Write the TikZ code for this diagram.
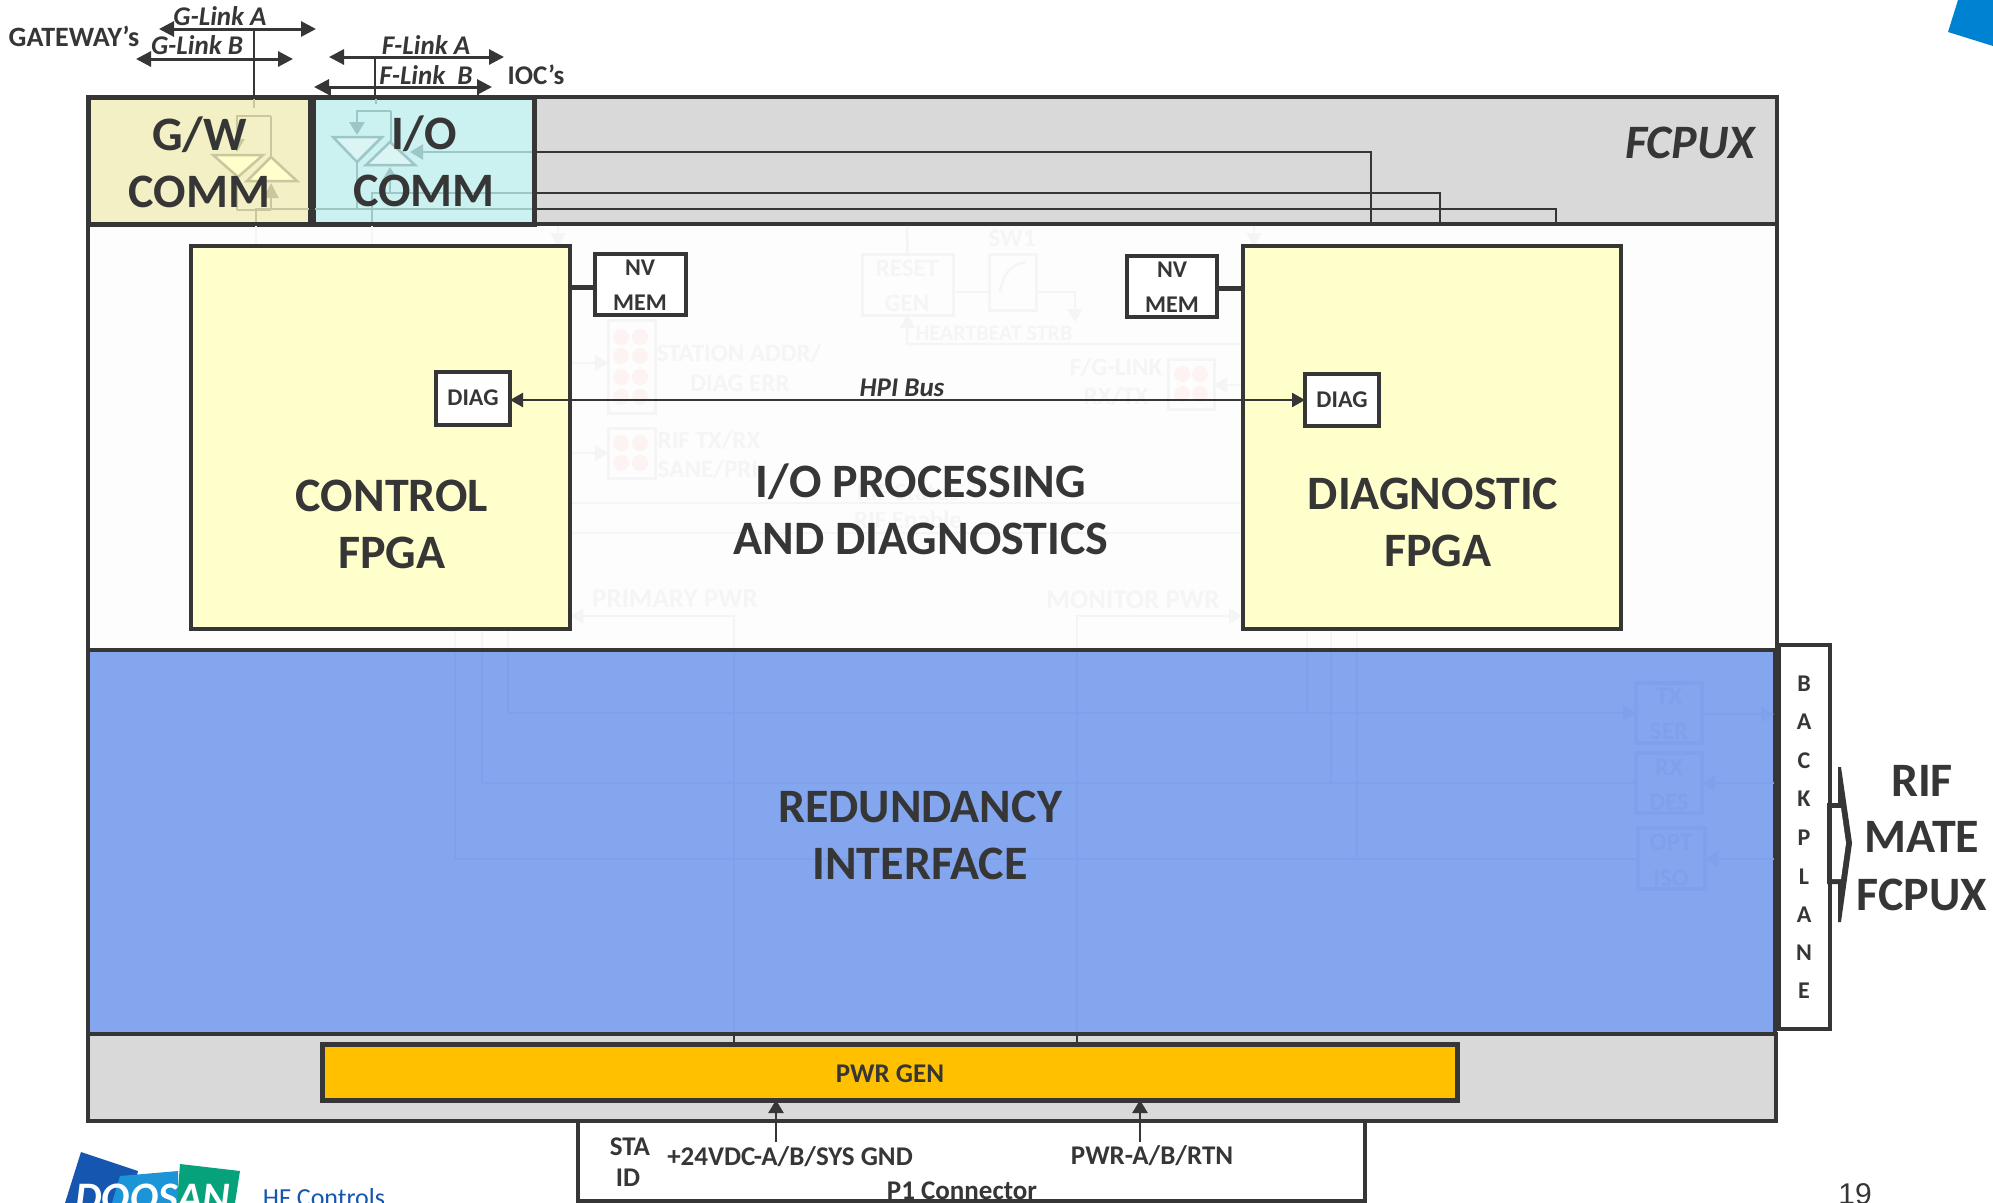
\documentclass[tikz,border=0pt]{standalone}
\usepackage{fontspec}
\setmainfont{Carlito}
\usetikzlibrary{arrows.meta}
\definecolor{ink}{HTML}{363636}
\definecolor{gry}{HTML}{D9D9D9}
\definecolor{blu}{HTML}{84A6EE}
\definecolor{gwf}{HTML}{F2F0C4}
\definecolor{iof}{HTML}{CCF1F1}
\definecolor{yel}{HTML}{FFFFCC}
\definecolor{org}{HTML}{FFC000}
\definecolor{gwh}{HTML}{C9C79E}
\definecolor{ioh}{HTML}{9DC6C6}
\definecolor{wbg}{HTML}{FDFDFD}
\definecolor{wh}{HTML}{F5F5F5}
\definecolor{bh}{HTML}{7FA1EB}
\definecolor{led}{HTML}{FEF3F3}
\definecolor{cmk}{HTML}{0082D2}
\definecolor{lg1}{HTML}{1556B0}
\definecolor{lg2}{HTML}{1C94D8}
\definecolor{lg3}{HTML}{05A27C}
\newcommand\myrect[7]{\node[#1,minimum width={#4pt-#2pt},minimum height={#5pt-#3pt}] (#6) at ({(#2+#4)/2},{(#3+#5)/2}) {#7};}
\newcommand\fs[2]{\fontsize{#1}{#2}\selectfont}
\tikzset{
  frame/.style={draw=ink,line width=4pt,inner sep=0pt,outer sep=0pt},
  thin box/.style={draw=ink,line width=3.5pt,inner sep=0pt,outer sep=0pt},
  txt/.style={text=ink,font=\bfseries,inner sep=0pt,outer sep=0pt,align=center},
  big/.style={txt,font=\bfseries\fs{48}{57}},
  mid/.style={txt,font=\bfseries\fs{24}{35}},
  small/.style={txt,font=\bfseries\fs{27}{27}},
  ital/.style={txt,font=\bfseries\itshape\fs{27}{30}},
  bus/.style={draw=ink,line width=3pt,{Triangle[length=15pt,width=15pt]}-{Triangle[length=15pt,width=15pt]}},
  link/.style={draw=ink,line width=2.5pt},
  up/.style={draw=ink,line width=2.5pt,-{Triangle[length=13pt,width=15pt]}},
  ghw/.style={draw=wh,line width=2.5pt},
  ghb/.style={draw=bh,line width=2.5pt},
  ghwa/.style={ghw,-{Triangle[length=13pt,width=15pt,color=wh]}},
  ghba/.style={ghb,-{Triangle[length=13pt,width=15pt,color=bh]}},
  ghwt/.style={txt,text=wh,font=\bfseries\fs{25}{35}},
  ghbt/.style={txt,text=bh,font=\bfseries\fs{25}{35}},
  ghwb/.style={draw=wh,line width=3pt,inner sep=0pt,outer sep=0pt},
  ghbb/.style={draw=bh,line width=4pt,inner sep=0pt,outer sep=0pt},
  ledd/.style={circle,fill=led,inner sep=0pt,outer sep=0pt,minimum size=16pt},
  gwl/.style={draw=gwh,line width=2.5pt},
  iol/.style={draw=ioh,line width=2.5pt},
}
\begin{document}
\begin{tikzpicture}[x=1pt,y=-1pt]
\useasboundingbox (0,0) rectangle (1993,1202);
\clip (0,0) rectangle (1993,1203);
\fill[white] (0,0) rectangle (1993,1203);

% connector box under the frame
\myrect{thin box,fill=white}{578}{1110}{1365}{1201}{pone}{}

% main frame bands
\myrect{frame,fill=gry}{88}{97}{1777}{224}{frametop}{}
\myrect{frame,fill=gry}{88}{1034}{1776}{1121}{framebot}{}
\myrect{frame,fill=wbg}{88}{224}{1777}{650}{framemid}{}
\myrect{frame,fill=blu}{88}{650}{1775}{1034}{framered}{}
\myrect{thin box,fill=white}{1779}{645}{1830}{1029}{bkp}{}
\myrect{frame,line width=5pt,fill=gwf}{88}{97}{310}{224}{gw}{}
\myrect{frame,line width=5pt,fill=iof}{313}{97}{534}{224}{io}{}
\myrect{frame,line width=5pt,fill=org}{322}{1044}{1457}{1100}{pwr}{}

% faint artwork, white band
\coordinate (ra) at (570,363); \coordinate (rb) at (608,363);
\coordinate (rc) at (570,453); \coordinate (rd) at (608,453);
\coordinate (re) at (1242,385); \coordinate (rf) at (1214,385);
\coordinate (la) at (570,503); \coordinate (lb) at (1242,503);
\coordinate (lc) at (570,533); \coordinate (ld) at (1242,533);
\draw[ghwa] (ra) -- (rb);
\draw[ghwa] (rc) -- (rd);
\draw[ghwa] (re) -- (rf);
\draw[ghw] (la) -- (lb);
\draw[ghw] (lc) -- (ld);
\coordinate (aa) at (558,226); \coordinate (ab) at (558,246);
\coordinate (ac) at (1254,226); \coordinate (ad) at (1254,246);
\draw[ghwa] (aa) -- (ab);
\draw[ghwa] (ac) -- (ad);
\coordinate (ga) at (256,226); \coordinate (gb) at (256,246);
\coordinate (gc) at (372,226); \coordinate (gd) at (372,246);
\draw[ghw] (ga) -- (gb);
\draw[ghw] (gc) -- (gd);
\myrect{ghwb}{862}{254}{953}{315}{rst}{}
\myrect{ghwb}{989}{254}{1036}{310}{swo}{}
\coordinate (rstt) at (907,226); \draw[ghw] (rstt) -- (rst.north);
\coordinate (swa) at (953,292); \coordinate (swb) at (989,292);
\coordinate (swc) at (1036,292); \coordinate (swd) at (1075,292); \coordinate (swe) at (1075,322);
\draw[ghw] (swa) -- (swb);
\draw[ghwa] (swc) -- (swd) -- (swe);
\draw[ghw] (1000,292) .. controls (1003,272) and (1012,265) .. (1026,262);
\coordinate (hb) at (1242,344);
\draw[ghwa] (hb) -- (907,344) -- (rst.south);
\node[ghwt] (tsw) at (1012,238) {SW1};
\node[ghwt] (trs) at (907,268) {RESET};
\node[ghwt] (tgn) at (907,303) {GEN};
\node[ghwt,font=\bfseries\fs{22}{22}] (thb) at (994,333) {HEARTBEAT STRB};
\myrect{ghwb}{608}{320}{655}{413}{ls}{}
\myrect{ghwb}{608}{428}{655}{478}{lr}{}
\myrect{ghwb}{1168}{359}{1214}{409}{lf}{}
\foreach \lx/\ly/\ln in {621/337/a,640/337/b,621/356/c,640/356/d,621/377/e,640/377/f,621/397/g,640/397/h,621/443/i,640/443/j,621/463/k,640/463/l,1182/374/m,1200/374/n,1182/394/o,1200/394/p}
  \node[ledd] (led\ln) at (\lx,\ly) {};
\node[ghwt] (tsa) at (739,353) {STATION ADDR/};
\node[ghwt] (tde) at (740,383) {DIAG ERR};
\node[ghwt] (trf) at (709,440) {RIF TX/RX};
\node[ghwt] (tsp) at (708,469) {SANE/PRI};
\node[ghwt] (tfg) at (1116,367) {F/G-LINK};
\node[ghwt] (trx) at (1116,396) {RX/TX};
\node[ghwt] (tst) at (908,492) {RIF Status};
\node[ghwt] (ten) at (908,520) {RIF Enable};
\node[ghwt,font=\bfseries\fs{27}{27}] (tpp) at (675,599) {PRIMARY PWR};
\node[ghwt,font=\bfseries\fs{27}{27}] (tmp) at (1133,600) {MONITOR PWR};

% faint verticals from the FPGAs and the power rails
\foreach \vx/\vn in {455/a,482/b,508/c,1307/d,1331/e,1357/f}{
  \coordinate (vt\vn) at (\vx,629); \coordinate (vm\vn) at (\vx,648);
  \draw[ghw] (vt\vn) -- (vm\vn);
}
\coordinate (pa) at (734,616); \coordinate (pb) at (570,616); \coordinate (pc) at (734,648);
\coordinate (pd) at (1077,616); \coordinate (pe) at (1242,616); \coordinate (pf) at (1077,648);
\draw[ghwa] (pc) -- (pa) -- (pb);
\draw[ghwa] (pf) -- (pd) -- (pe);

% faint artwork, blue band
\myrect{ghbb}{1636}{683}{1702}{743}{tx}{}
\myrect{ghbb}{1636}{753}{1702}{813}{rx}{}
\myrect{ghbb}{1638}{828}{1705}{889}{opt}{}
\node[ghbt] (ttx) at (1669,696) {TX};
\node[ghbt] (tse) at (1669,731) {SER};
\node[ghbt] (trr) at (1669,767) {RX};
\node[ghbt] (tdes) at (1669,802) {DES};
\node[ghbt] (topt) at (1671,842) {OPT};
\node[ghbt] (tiso) at (1671,878) {ISO};
\coordinate (ba) at (508,652); \coordinate (bb) at (508,713);
\coordinate (bc) at (482,652); \coordinate (bd) at (482,783);
\coordinate (be) at (455,652); \coordinate (bf) at (455,859);
\draw[ghba] (ba) -- (bb) -- (tx.west |- bb);
\draw[ghb] (bc) -- (bd) -- (rx.west |- bd);
\draw[ghb] (be) -- (bf) -- (opt.west |- bf);
\coordinate (bg) at (1307,652); \coordinate (bh) at (1307,713);
\coordinate (bi) at (1331,652); \coordinate (bj) at (1331,783);
\coordinate (bk) at (1357,652); \coordinate (bl) at (1357,859);
\draw[ghb] (bg) -- (bh);
\draw[ghb] (bi) -- (bj);
\draw[ghb] (bk) -- (bl);
\coordinate (bm) at (1774,714); \coordinate (bn) at (1774,783); \coordinate (bo) at (1774,859);
\draw[ghba] (tx.east |- bm) -- (bm);
\draw[ghba] (bn) -- (rx.east |- bn);
\draw[ghba] (bo) -- (opt.east |- bo);
\coordinate (bp) at (734,652); \coordinate (bq) at (734,1032);
\coordinate (br) at (1077,652); \coordinate (bs) at (1077,1032);
\draw[ghb] (bp) -- (bq);
\draw[ghb] (br) -- (bs);

% power rails, visible part
\coordinate (ka) at (734,1036); \coordinate (kb) at (1077,1036);
\draw[link] (ka) -- (pwr.north -| ka);
\draw[link] (kb) -- (pwr.north -| kb);

% G/W faint artwork
\coordinate (g1) at (254,99); \coordinate (g2) at (254,108);
\draw[gwl] (g1) -- (g2);
\coordinate (g3) at (237,116); \coordinate (g4) at (271,116);
\coordinate (g5) at (237,152); \coordinate (g6) at (271,157);
\coordinate (g7) at (237,210); \coordinate (g8) at (271,210);
\coordinate (g9) at (271,183); \coordinate (g10) at (256,209); \coordinate (g11) at (256,222);
\coordinate (g12) at (309,209); \coordinate (g13) at (237,177);
\draw[gwl,-{Triangle[length=13pt,width=15pt,color=gwh]}] (g4) -- (g3) -- (g5);
\draw[gwl] (g4) -- (g6);
\draw[gwl] (g7) -- (g8);
\draw[gwl] (g13) -- (g7);
\draw[gwl,-{Triangle[length=15pt,width=15pt,color=gwh]}] (g8) -- (g9);
\draw[gwl] (g11) -- (g10) -- (g12);
\draw[gwl,fill=yel] (213,155) -- (263,155) -- (238,177) -- cycle;
\draw[gwl,fill=yel] (271,157) -- (247,181) -- (297,181) -- cycle;

% I/O faint artwork
\coordinate (i1) at (376,99); \coordinate (i2) at (376,104);
\draw[iol] (i1) -- (i2);
\coordinate (i3) at (357,111); \coordinate (i4) at (391,111);
\coordinate (i5) at (357,135); \coordinate (i6) at (391,142);
\coordinate (i7) at (357,162); \coordinate (i8) at (357,209);
\coordinate (i9) at (390,193); \coordinate (i10) at (390,167);
\coordinate (i11) at (372,193); \coordinate (i12) at (372,222);
\coordinate (i13) at (315,209);
\coordinate (o1) at (532,152); \coordinate (o2) at (410,152);
\coordinate (o3) at (532,193); \coordinate (o4) at (532,209);
\draw[iol,-{Triangle[length=13pt,width=15pt,color=ioh]}] (i4) -- (i3) -- (i5);
\draw[iol] (i4) -- (i6);
\draw[iol] (i7) -- (i8);
\draw[iol,-{Triangle[length=13pt,width=15pt,color=ioh]}] (i9) -- (i10);
\draw[iol] (i12) -- (i11) -- (o3);
\draw[iol] (i13) -- (o4);
\draw[iol,-{Triangle[length=13pt,width=15pt,color=ioh]}] (o1) -- (o2);
\draw[iol,fill=iof!70!white] (333,137) -- (382,137) -- (357,162) -- cycle;
\draw[iol,fill=iof!70!white] (390,142) -- (366,165) -- (415,165) -- cycle;

% links out of I/O COMM to the diagnostic side
\coordinate (d1) at (1371,224); \coordinate (d2) at (1440,224); \coordinate (d3) at (1556,224);
\coordinate (e1) at (536,152); \coordinate (e2) at (536,193); \coordinate (e3) at (536,209);
\draw[link] (e1) -- (d1 |- e1) -- (d1);
\draw[link] (e2) -- (d2 |- e2) -- (d2);
\draw[link] (e3) -- (d3 |- e3) -- (d3);

% FPGAs and small boxes
\myrect{frame,fill=yel}{191}{246}{570}{629}{ctrl}{}
\myrect{frame,fill=yel}{1243}{246}{1621}{629}{diag}{}
\myrect{frame,fill=white}{595}{254}{686}{315}{nvl}{}
\myrect{frame,fill=white}{1127}{256}{1217}{317}{nvr}{}
\myrect{frame,fill=white}{436}{372}{510}{425}{dgl}{}
\myrect{frame,fill=white}{1305}{374}{1379}{426}{dgr}{}
\coordinate (nl) at (0,287); \coordinate (nr) at (0,288);
\draw[draw=ink,line width=5pt] (ctrl.east |- nl) -- (nvl.west |- nl);
\draw[draw=ink,line width=5pt] (nvr.east |- nr) -- (diag.west |- nr);
\coordinate (hpy) at (0,400);
\draw[draw=ink,line width=2.5pt,{Triangle[length=13pt,width=14pt]}-{Triangle[length=13pt,width=14pt]}] (dgl.east |- hpy) -- (dgr.west |- hpy);

% links on top
\coordinate (gal) at (159,29); \coordinate (gar) at (316,29);
\coordinate (gbl) at (136,59); \coordinate (gbr) at (293,59);
\coordinate (fal) at (329,57); \coordinate (far) at (504,57);
\coordinate (fbl) at (314,87); \coordinate (fbr) at (492,87);
\draw[bus] (gal) -- (gar);
\draw[bus] (gbl) -- (gbr);
\draw[bus] (fal) -- (far);
\draw[bus] (fbl) -- (fbr);
\coordinate (gv) at (254,29); \coordinate (fv) at (375,57);
\draw[link] (gv) -- (gv |- frametop.north);
\draw[link] (fv) -- (fv |- frametop.north);
\coordinate (fs1) at (330,87); \coordinate (fs2) at (478,87);
\draw[link] (fs1) -- (fs1 |- frametop.north);
\draw[link] (fs2) -- (fs2 |- frametop.north);

% power arrows
\coordinate (p24) at (776,1142); \coordinate (prt) at (1140,1142);
\draw[up] (p24) -- (p24 |- pwr.south);
\draw[up] (prt) -- (prt |- pwr.south);

% RIF mate block arrow
\fill[ink] (1827,803) -- (1838,803) -- (1838,767) -- (1841,767) -- (1852,843) -- (1841,922) -- (1838,922) -- (1838,884) -- (1827,884) -- cycle;
\fill[white] (1832,808) -- (1841,808) -- (1846,843) -- (1841,879) -- (1832,879) -- cycle;

% text
\node[big] (tgw) at (199.5,162.5) {G/W\\COMM};
\node[big] (tio) at (424,161) {I/O\\COMM};
\node[txt,font=\bfseries\itshape\fs{48}{50}] (tfc) at (1690,143) {FCPUX};
\node[big] (tcf) at (392,524) {CONTROL\\FPGA};
\node[big] (tdf) at (1433,522) {DIAGNOSTIC\\\hspace*{10pt}FPGA};
\node[big] (tip) at (921,509) {I/O PROCESSING\\AND DIAGNOSTICS};
\node[big] (trd) at (920,835.5) {REDUNDANCY\\INTERFACE};
\node[big] (trm) at (1922,781) {RIF};
\node[big] (trm2) at (1922,837) {MATE};
\node[big] (trm3) at (1922,895) {FCPUX};
\node[mid] (tnl) at (640,285.5) {NV\\MEM};
\node[mid] (tnr) at (1172,287) {NV\\MEM};
\node[mid] (tdl) at (473,398) {DIAG};
\node[mid] (tdr) at (1342,400) {DIAG};
\node[ital] (thp) at (902,388) {HPI Bus};
\node[ital] (tga) at (220,16) {G-Link A};
\node[ital] (tgb) at (197,45) {G-Link B};
\node[ital] (tfa) at (426,45) {F-Link A};
\node[ital] (tfb) at (426,75) {F-Link\ \ B};
\node[small,font=\bfseries\fs{28}{28}] (tgt) at (74,36) {GATEWAY’s};
\node[small] (tic) at (536,75) {IOC’s};
\node[small] (tpg) at (890,1074) {PWR GEN};
\node[small] (t24) at (790,1157) {+24VDC-A/B/SYS GND};
\node[small] (tpr) at (1152,1156) {PWR-A/B/RTN};
\node[small] (ts1) at (630,1147) {STA};
\node[small] (ts2) at (628,1178) {ID};
\node[small] (tp1) at (962,1191) {P1 Connector};
\foreach \ch/\cy/\cn in {B/684/a,A/722/b,C/761/c,K/799/d,P/838/e,L/877/f,A/915/g,N/953/h,E/991/i}
  \node[mid] (bpl\cn) at (1804,\cy) {\ch};
\node[inner sep=0pt,text=ink,font={\fontspec{Liberation Sans}\fs{30}{30}}] (tpn) at (1855,1194) {19};

% corner mark
\fill[cmk] (1958,0) -- (1948,32) -- (1993,46) -- (1993,0) -- cycle;

% logo
\fill[lg1] (81,1152) -- (138,1171) -- (130,1203) -- (65,1203) -- cycle;
\fill[lg2] (120,1176) -- (178,1171) -- (178,1203) -- (112,1203) -- cycle;
\fill[lg3] (180,1164) -- (240,1171) -- (235,1203) -- (177,1203) -- cycle;
\node[inner sep=0pt,text=white,font=\bfseries\itshape\fs{42}{42}] (tdsn) at (153,1198) {DOOSAN};
\node[inner sep=0pt,text=lg1,font=\fs{26}{26}] (thf) at (324,1198) {HF Controls};
\end{tikzpicture}
\end{document}
